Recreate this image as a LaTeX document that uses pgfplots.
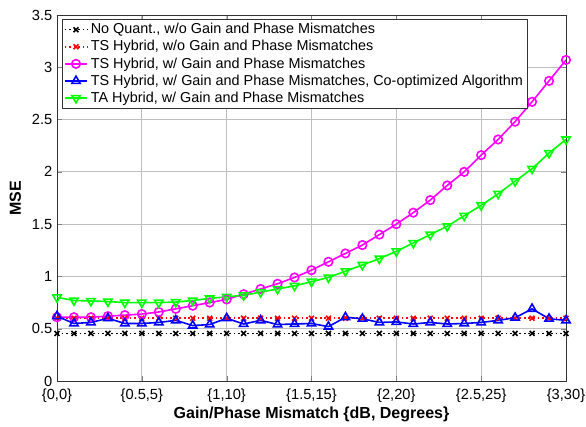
\documentclass[border=0pt]{standalone}
\usepackage{fontspec}
\setmainfont{Liberation Sans}
\usepackage{pgfplots}
\pgfplotsset{compat=1.18}

\definecolor{mgreen}{rgb}{0,1,0}
\definecolor{mmag}{rgb}{1,0,1}

\pgfplotstableread{
x    noq   tsno  tsmis tsco  tamis
0.0  0.455 0.60  0.61  0.62  0.80
0.1  0.455 0.60  0.61  0.55  0.77
0.2  0.455 0.60  0.61  0.56  0.765
0.3  0.455 0.60  0.62  0.60  0.76
0.4  0.455 0.60  0.63  0.55  0.75
0.5  0.455 0.60  0.64  0.55  0.75
0.6  0.455 0.60  0.66  0.56  0.75
0.7  0.455 0.60  0.69  0.58  0.755
0.8  0.455 0.60  0.72  0.53  0.77
0.9  0.455 0.60  0.75  0.54  0.79
1.0  0.455 0.60  0.78  0.60  0.805
1.1  0.455 0.60  0.83  0.545 0.82
1.2  0.455 0.60  0.88  0.58  0.85
1.3  0.455 0.60  0.93  0.54  0.88
1.4  0.455 0.60  0.99  0.545 0.91
1.5  0.455 0.60  1.06  0.55  0.95
1.6  0.455 0.60  1.14  0.52  0.99
1.7  0.455 0.60  1.22  0.61  1.05
1.8  0.455 0.60  1.30  0.595 1.11
1.9  0.455 0.60  1.40  0.56  1.17
2.0  0.455 0.60  1.50  0.565 1.24
2.1  0.455 0.60  1.61  0.545 1.32
2.2  0.455 0.60  1.73  0.56  1.40
2.3  0.455 0.60  1.87  0.545 1.48
2.4  0.455 0.60  2.00  0.55  1.58
2.5  0.455 0.60  2.16  0.56  1.68
2.6  0.455 0.60  2.31  0.58  1.79
2.7  0.455 0.60  2.48  0.605 1.91
2.8  0.455 0.60  2.67  0.69  2.03
2.9  0.455 0.60  2.87  0.595 2.18
3.0  0.455 0.60  3.07  0.58  2.31
}\mse

\begin{document}
\begin{tikzpicture}
\begin{axis}[
  at={(0,0)}, anchor=south west,
  scale only axis,
  width=381.75pt, height=274.5pt,
  xmin=0, xmax=3, ymin=0, ymax=3.5,
  xtick={0,0.5,1,1.5,2,2.5,3},
  xticklabels={{\{0,0\}},{\{0.5,5\}},{\{1,10\}},{\{1.5,15\}},{\{2,20\}},{\{2.5,25\}},{\{3,30\}}},
  ytick={0,0.5,1,1.5,2,2.5,3,3.5},
  yticklabel style={/pgf/number format/fixed},
  /pgf/number format/assume math mode=true,
  tick align=inside,
  tick pos=both,
  major tick length=4pt,
  ticklabel style={font=\fontsize{11}{13}\selectfont},
  xticklabel style={yshift=-2pt},
  grid=major,
  grid style={black!25, line width=0.6pt},
  axis line style={black!80, line width=0.6pt},
  xlabel={\textbf{Gain/Phase Mismatch \{dB, Degrees\}}},
  ylabel={\textbf{MSE}},
  xlabel style={font=\fontsize{12}{14}\selectfont, at={(axis description cs:0.5,-0.092)}, anchor=center},
  ylabel style={font=\fontsize{12}{14}\selectfont, at={(axis description cs:-0.082,0.5)}, anchor=center},
  legend style={at={(axis description cs:0.01,0.989)}, anchor=north west,
    font=\fontsize{10.8}{12.5}\selectfont, draw=black!80, line width=0.6pt,
    inner sep=1pt, row sep=-0.5pt, cells={anchor=west}},
  legend cell align=left,
  every axis plot/.append style={line width=1.2pt},
]
\addplot[black, dash pattern=on 1.2pt off 2.2pt, mark=x, mark size=2.6pt, mark options={solid, line width=1.2pt}]
  table[x=x, y=noq] {\mse};
\addlegendentry{No Quant., w/o Gain and Phase Mismatches}
\addplot[red, dash pattern=on 1.2pt off 2.2pt, mark=x, mark size=2.6pt, mark options={solid, line width=1.2pt}]
  table[x=x, y=tsno] {\mse};
\addlegendentry{TS Hybrid, w/o Gain and Phase Mismatches}
\addplot[mmag, mark=o, mark size=3.2pt, mark options={solid, fill=none}]
  table[x=x, y=tsmis] {\mse};
\addlegendentry{TS Hybrid, w/ Gain and Phase Mismatches}
\addplot[blue, mark=triangle, mark size=3.6pt, mark options={solid, fill=none}]
  table[x=x, y=tsco] {\mse};
\addlegendentry{TS Hybrid, w/ Gain and Phase Mismatches, Co-optimized Algorithm}
\addplot[mgreen, mark=triangle, mark size=3.6pt, mark options={solid, fill=none, rotate=180}]
  table[x=x, y=tamis] {\mse};
\addlegendentry{TA Hybrid, w/ Gain and Phase Mismatches}
\end{axis}
\pgfresetboundingbox
\path (-42.75pt,-33.75pt) rectangle (396.75pt,285.75pt);
\end{tikzpicture}
\end{document}
